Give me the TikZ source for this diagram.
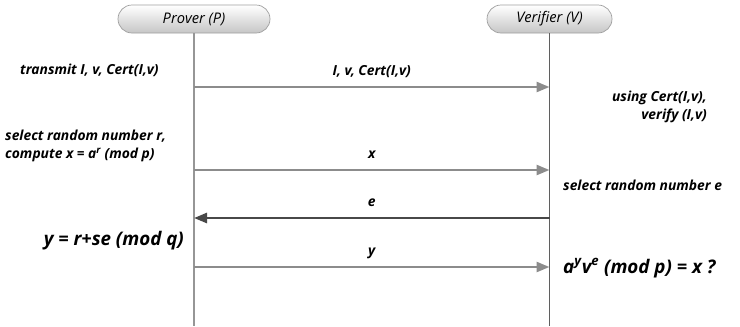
\documentclass[tikz,border=0pt]{standalone}
\usepackage{fontspec}
\setmainfont{Open Sans}
\usetikzlibrary{arrows.meta,shapes.misc}
\definecolor{msggray}{RGB}{140,140,140}
\definecolor{msgdark}{RGB}{72,72,72}
\definecolor{linegray}{RGB}{150,150,150}
\definecolor{linedark}{RGB}{95,95,95}

\begin{document}
\begin{tikzpicture}[x=0.03cm, y=-0.03cm,
    party/.style={rounded rectangle, draw=gray!75, line width=0.6pt, top color=white, bottom color=gray!45,
      minimum height=0.84cm, inner sep=0pt, font=\fontsize{12.5}{14}\selectfont\itshape},
    lifeline/.style={line width=1.6pt},
    msg/.style={line width=2.2pt, msggray, -{Triangle[length=3.9mm, width=3mm]}},
    msglabel/.style={midway, yshift=4.6mm, text=black, text height=1.5ex, text depth=0.3ex,
      font=\fontsize{11.8}{13}\selectfont\bfseries\itshape},
    note/.style={inner sep=0pt, font=\fontsize{11.8}{15.5}\selectfont\bfseries\itshape},
    bignote/.style={inner sep=0pt, font=\fontsize{16}{18}\selectfont\bfseries\itshape}]
  \useasboundingbox (0,0) rectangle (740,326);

  % the two parties and their lifelines
  \node[party, minimum width=4.56cm] (prover) at (194,19) {Prover (P)};
  \node[party, minimum width=3.75cm] (verifier) at (549.5,19) {Verifier (V)};
  \coordinate (pend) at (prover.south |- 0,326);
  \coordinate (vend) at (verifier.south |- 0,326);
  \draw[lifeline, linegray] (prover.south) -- (pend);
  \draw[lifeline, linedark] (verifier.south) -- (vend);

  % message end points on the lifelines: p = prover side, v = verifier side
  \foreach \y/\n in {87/1, 170/2, 218/3, 267/4} {
    \coordinate (p\n) at (prover.south |- 0,\y);
    \coordinate (v\n) at (verifier.south |- 0,\y);
  }

  \draw[msg] (p1) -- node[msglabel] {I, v, Cert(I,v)} (v1);
  \draw[msg] (p2) -- node[msglabel] {x} (v2);
  \draw[msg, msgdark] (v3) -- node[msglabel] {e} (p3);
  \draw[msg] (p4) -- node[msglabel] {y} (v4);

  % what each party does
  \node[note, anchor=west] (transmit) at (20,70) {transmit I, v, Cert(I,v)};
  \node[note, anchor=east, align=right] (check) at (707,107) {using Cert(I,v),\\verify (I,v)};
  \node[note, anchor=west, align=left] (commit) at (5,146) {select random number r,\\compute x = a\textsuperscript{r} (mod p)};
  \node[note, anchor=west] (challenge) at (563,185) {select random number e};
  \node[bignote, anchor=east] (response) at (184,241) {y = r+se (mod q)};
  \node[bignote, anchor=west] (verify) at (563,268) {a\textsuperscript{y}v\textsuperscript{e} (mod p) = x ?};
\end{tikzpicture}
\end{document}
